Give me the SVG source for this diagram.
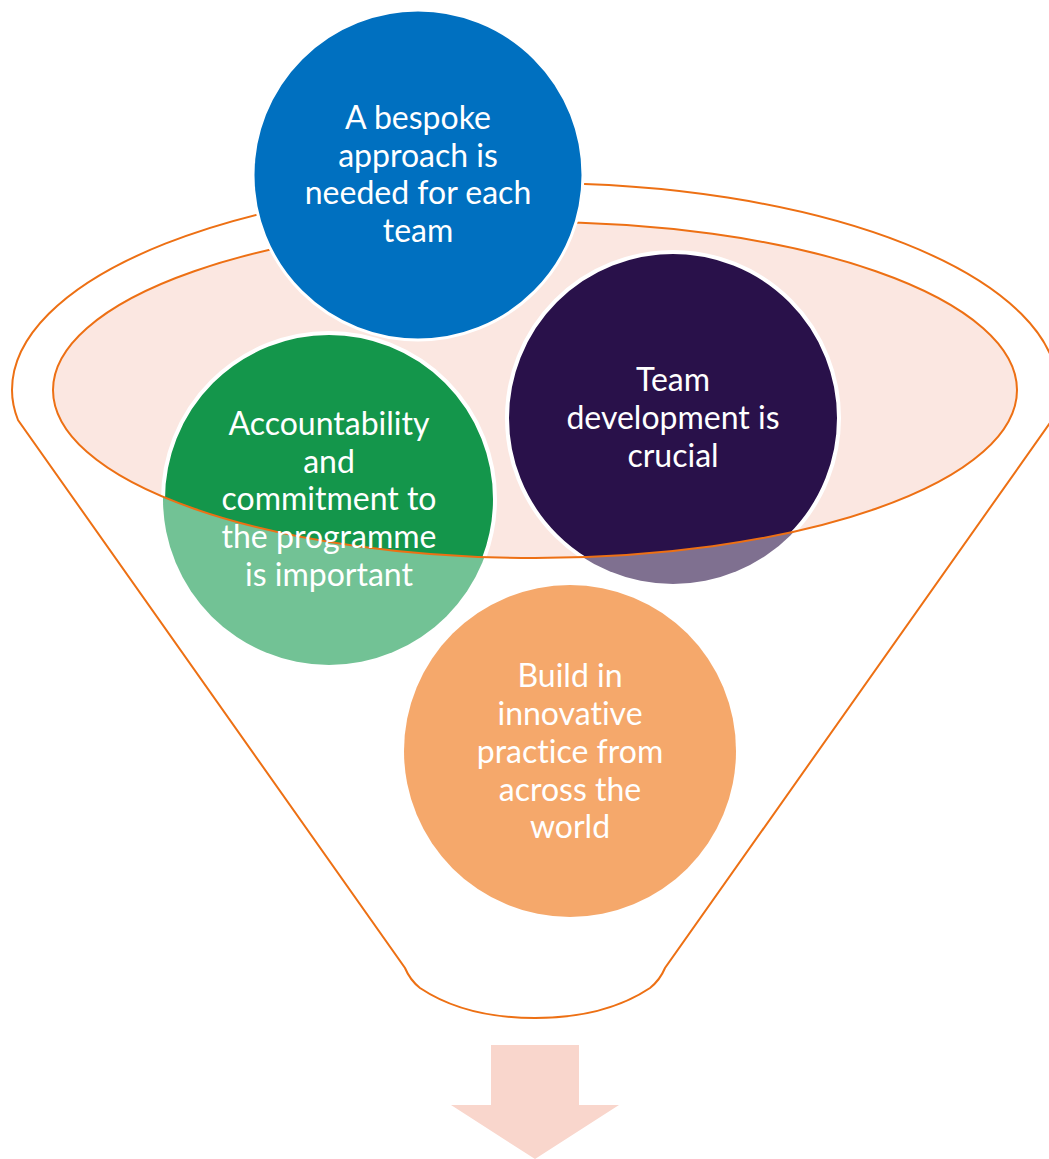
<svg xmlns="http://www.w3.org/2000/svg" width="1049" height="1159" viewBox="0 0 1049 1159">
<style>
.ln{fill:none;stroke:#ed7014;stroke-width:2}
.t{font-family:Lato,"Liberation Sans",sans-serif;font-size:32px;fill:#ffffff;text-anchor:middle;font-variant-ligatures:none}
.ws{stroke:#ffffff;stroke-width:4}
</style>
<defs>
<clipPath id="inner"><ellipse cx="535" cy="390" rx="482" ry="168"/></clipPath>
</defs>
<rect width="1049" height="1159" fill="#ffffff"/>
<g id="funnel">
<path class="ln" d="M18,420 Q12,405 12,390 A523,207 0 0 1 1058,390 Q1058,405 1052,420 L665,968 Q660,980 650,988 C620,1008 580,1018 535,1018 C490,1018 450,1008 420,988 Q410,980 405,968 Z"/>
<ellipse cx="535" cy="390" rx="482" ry="168" fill="#fbe7e1"/>
</g>
<g id="node-green">
<circle cx="329" cy="499" r="166" fill="#72c295"/>
<circle cx="329" cy="499" r="166" fill="#14964b" class="ws" clip-path="url(#inner)"/>
</g>
<g id="node-purple">
<circle cx="673" cy="418" r="166" fill="#7f7090"/>
<circle cx="673" cy="418" r="166" fill="#29114a" class="ws" clip-path="url(#inner)"/>
</g>
<g id="connectors">
<ellipse class="ln" cx="535" cy="390" rx="482" ry="168"/>
</g>
<g id="node-green-text">
<text class="t" x="329" y="435">Accountability</text>
<text class="t" x="329" y="473">and</text>
<text class="t" x="329" y="510">commitment to</text>
<text class="t" x="329" y="548">the programme</text>
<text class="t" x="329" y="586">is important</text>
</g>
<g id="node-purple-text">
<text class="t" x="673" y="391">Team</text>
<text class="t" x="673" y="429">development is</text>
<text class="t" x="673" y="467">crucial</text>
</g>
<g id="node-orange">
<circle cx="570" cy="751" r="166" fill="#f5a86b"/>
<text class="t" x="570" y="687">Build in</text>
<text class="t" x="570" y="725">innovative</text>
<text class="t" x="570" y="763">practice from</text>
<text class="t" x="570" y="801">across the</text>
<text class="t" x="570" y="838">world</text>
</g>
<g id="node-blue">
<circle cx="418" cy="175" r="165" fill="#0070c0" stroke="#ffffff" stroke-width="3"/>
<text class="t" x="418" y="129">A bespoke</text>
<text class="t" x="418" y="167">approach is</text>
<text class="t" x="418" y="204">needed for each</text>
<text class="t" x="418" y="242">team</text>
</g>
<g id="arrow">
<polygon points="491,1045 579,1045 579,1105 619,1105 535,1159 451,1105 491,1105" fill="#f9d6cc"/>
</g>
</svg>
